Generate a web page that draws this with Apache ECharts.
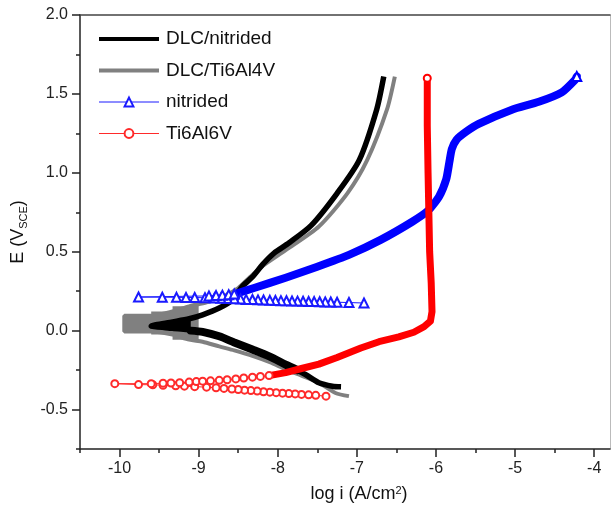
<!DOCTYPE html>
<html lang="en">
<head>
<meta charset="utf-8">
<title>polarization curves</title>
<script src="https://cdn.jsdelivr.net/npm/echarts@6/dist/echarts.min.js"></script>
<style>
    html, body { margin: 0; padding: 0; background: #fff; }
    #main { width: 614px; height: 515px; }
</style>
</head>
<body>
<div id="main"></div>
<script>
// axis ticks
var xMajorTicks = [-10, -9, -8, -7, -6, -5, -4]
var xMinorTicks = [-10.5, -9.5, -8.5, -7.5, -6.5, -5.5, -4.5]
var yMajorTicks = [-0.5, 0, 0.5, 1, 1.5, 2]
var yMinorTicks = [-0.75, -0.25, 0.25, 0.75, 1.25, 1.75]

// [log i, E], in scan order
var dlcNitrided = [
    [-7.20, -0.356], [-7.31, -0.352], [-7.48, -0.33], [-7.65, -0.278], [-7.90, -0.215],
    [-8.10, -0.165], [-8.32, -0.12], [-8.55, -0.075], [-8.74, -0.036], [-8.95, -0.006],
    [-9.33, 0.015], [-9.60, 0.03], [-9.33, 0.055], [-9.12, 0.075], [-8.95, 0.10],
    [-8.74, 0.143], [-8.57, 0.196], [-8.45, 0.28], [-8.32, 0.34], [-8.19, 0.42],
    [-8.05, 0.49], [-7.86, 0.555], [-7.58, 0.665], [-7.25, 0.87], [-6.97, 1.08],
    [-6.75, 1.40], [-6.66, 1.61]
]
// noisy, thicker part of the cathodic branch
var dlcNitridedNoise = [
    [-9.10, 0.0], [-8.95, -0.008], [-8.74, -0.036], [-8.55, -0.075], [-8.32, -0.12],
    [-8.10, -0.165], [-7.90, -0.215], [-7.75, -0.25]
]
var dlcNitridedWedge = [
    [-9.60, 0.046], [-9.33, 0.066], [-9.10, 0.088], [-9.10, -0.006], [-9.33, 0.010], [-9.60, 0.018]
]

var dlcTi = [
    [-7.10, -0.415], [-7.27, -0.395], [-7.48, -0.33], [-7.70, -0.285], [-7.90, -0.245],
    [-8.10, -0.20], [-8.32, -0.16], [-8.55, -0.125], [-8.74, -0.10], [-8.95, -0.07],
    [-9.12, -0.057], [-9.33, -0.025], [-9.60, -0.006], [-9.94, -0.006], [-9.94, 0.095],
    [-9.60, 0.095], [-9.33, 0.122], [-9.12, 0.154], [-8.90, 0.18], [-8.70, 0.215],
    [-8.50, 0.27], [-8.35, 0.34], [-8.19, 0.41], [-7.90, 0.51], [-7.48, 0.66],
    [-7.12, 0.87], [-6.87, 1.08], [-6.62, 1.40], [-6.52, 1.61]
]
var dlcTiWedge = [
    [-9.94, 0.095], [-9.60, 0.095], [-9.60, 0.122], [-9.33, 0.122], [-9.33, 0.154],
    [-9.12, 0.154], [-9.0, 0.165], [-9.0, -0.065], [-9.12, -0.057], [-9.33, -0.057],
    [-9.33, -0.025], [-9.60, -0.025], [-9.60, -0.006], [-9.94, -0.006]
]

var nitrided = [
    [-6.91, 0.175], [-7.10, 0.178], [-7.25, 0.18], [-7.33, 0.181], [-7.40, 0.182],
    [-7.47, 0.183], [-7.54, 0.184], [-7.61, 0.185], [-7.68, 0.186], [-7.75, 0.187],
    [-7.82, 0.188], [-7.89, 0.189], [-7.96, 0.19], [-8.03, 0.191], [-8.10, 0.192],
    [-8.18, 0.194], [-8.25, 0.195], [-8.32, 0.197], [-8.40, 0.198], [-8.47, 0.20],
    [-8.55, 0.202], [-8.64, 0.204], [-8.72, 0.205], [-8.80, 0.207], [-8.92, 0.208],
    [-9.05, 0.21], [-9.16, 0.21], [-9.28, 0.211], [-9.46, 0.212], [-9.76, 0.213],
    [-8.87, 0.22], [-8.78, 0.222], [-8.70, 0.225], [-8.62, 0.228], [-8.55, 0.232]
]
var nitridedBand = [
    [-8.52, 0.235], [-8.30, 0.27], [-7.90, 0.335], [-7.50, 0.405], [-7.10, 0.48],
    [-6.70, 0.575], [-6.30, 0.69], [-6.10, 0.76], [-5.96, 0.85], [-5.87, 0.96],
    [-5.83, 1.07], [-5.80, 1.15], [-5.74, 1.21], [-5.62, 1.26], [-5.46, 1.31],
    [-5.04, 1.40], [-4.70, 1.45], [-4.41, 1.51], [-4.24, 1.59], [-4.22, 1.61]
]

var ti6al6v = [
    [-7.39, -0.415], [-7.52, -0.41], [-7.61, -0.407], [-7.70, -0.404], [-7.78, -0.401],
    [-7.86, -0.399], [-7.94, -0.396], [-8.02, -0.393], [-8.10, -0.39], [-8.18, -0.387],
    [-8.26, -0.383], [-8.34, -0.38], [-8.42, -0.377], [-8.50, -0.373], [-8.58, -0.37],
    [-8.68, -0.366], [-8.78, -0.362], [-8.90, -0.358], [-9.05, -0.355], [-9.18, -0.352],
    [-9.29, -0.35], [-9.45, -0.346], [-9.58, -0.343], [-9.76, -0.342], [-10.06, -0.336],
    [-9.60, -0.336], [-9.45, -0.333], [-9.35, -0.332], [-9.24, -0.33], [-9.12, -0.326],
    [-9.03, -0.323], [-8.95, -0.32], [-8.85, -0.318], [-8.74, -0.315], [-8.64, -0.311],
    [-8.53, -0.306], [-8.43, -0.30], [-8.32, -0.295], [-8.22, -0.29], [-8.11, -0.285]
]
var ti6al6vBand = [
    [-8.11, -0.285], [-7.90, -0.266], [-7.70, -0.24], [-7.48, -0.212], [-7.25, -0.17],
    [-6.95, -0.11], [-6.72, -0.07], [-6.47, -0.04], [-6.28, -0.01], [-6.15, 0.025],
    [-6.07, 0.06], [-6.05, 0.12], [-6.06, 0.30], [-6.08, 0.50], [-6.09, 0.75],
    [-6.10, 1.00], [-6.11, 1.30], [-6.11, 1.60]
]

var font = '"Liberation Sans", Arial, sans-serif'

var wedge = function(points, color, z) {
    return {
        type: 'custom',
        coordinateSystem: 'cartesian2d',
        silent: true,
        z: z,
        data: [points[0]],
        renderItem: function(params, api) {
            return {
                type: 'polygon',
                shape: { points: points.map(function(p) { return api.coord(p) }) },
                style: { fill: color }
            }
        }
    }
}

// band series: only the last point gets a marker
var lastOnly = function(size, data) {
    return function(v, p) {
        return p.dataIndex === data.length - 1 ? size : 0
    }
}

var element = document.querySelector('#main')
var myChart = echarts.init(element)

var option = {
    animation: false,
    backgroundColor: '#fff',
    textStyle: { fontFamily: font },
    grid: { left: 80, right: 4, top: 15, bottom: 66 },
    legend: {
        orient: 'vertical',
        left: 97,
        top: 29,
        padding: 0,
        itemWidth: 60,
        itemHeight: 11,
        itemGap: 11.5,
        textStyle: { fontSize: 19, color: '#111', fontFamily: font, lineHeight: 20, padding: [0, 0, 0, 2] },
        data: [
            { name: 'DLC/nitrided', lineStyle: { width: 4 }, itemStyle: { opacity: 0 } },
            { name: 'DLC/Ti6Al4V', lineStyle: { width: 4 }, itemStyle: { opacity: 0 } },
            { name: 'nitrided', lineStyle: { width: 1 } },
            { name: 'Ti6Al6V', lineStyle: { width: 1 } }
        ]
    },
    xAxis: [
        {
            type: 'value', min: -10.5, max: -3.8, position: 'bottom',
            name: 'log i (A/cm{sup|2})',
            nameLocation: 'middle',
            nameGap: 36,
            nameTextStyle: {
                fontSize: 18, color: '#111', padding: [0, 0, 0, 28],
                rich: { sup: { fontSize: 11, verticalAlign: 'top', lineHeight: 14 } }
            },
            axisLine: { onZero: false, lineStyle: { color: '#222', width: 1.5 } },
            axisTick: { length: 8, customValues: xMajorTicks, lineStyle: { color: '#222', width: 1.5 } },
            axisLabel: { customValues: xMajorTicks, fontSize: 16, color: '#222', margin: 12 },
            splitLine: { show: false }
        },
        {
            type: 'value', min: -10.5, max: -3.8, position: 'bottom',
            axisLine: { show: false, onZero: false },
            axisTick: { length: 4, customValues: xMinorTicks, lineStyle: { color: '#222', width: 1.5 } },
            axisLabel: { show: false },
            splitLine: { show: false }
        },
        {
            type: 'value', min: -10.5, max: -3.8, position: 'top',
            axisLine: { onZero: false, lineStyle: { color: '#444', width: 1.5 } },
            axisTick: { show: false },
            axisLabel: { show: false },
            splitLine: { show: false }
        }
    ],
    yAxis: [
        {
            type: 'value', min: -0.75, max: 2.0, position: 'left',
            name: '{a|E (V}{s|SCE}{a|)}',
            nameLocation: 'middle',
            nameGap: 50,
            nameTextStyle: {
                color: '#111',
                rich: {
                    a: { fontSize: 18, lineHeight: 22 },
                    s: { fontSize: 11, lineHeight: 12, verticalAlign: 'bottom' }
                }
            },
            axisLine: { onZero: false, lineStyle: { color: '#222', width: 1.5 } },
            axisTick: { length: 8, customValues: yMajorTicks, lineStyle: { color: '#222', width: 1.5 } },
            axisLabel: {
                customValues: yMajorTicks, fontSize: 16, color: '#222', margin: 12,
                formatter: function(v) { return v.toFixed(1) }
            },
            splitLine: { show: false }
        },
        {
            type: 'value', min: -0.75, max: 2.0, position: 'left',
            axisLine: { show: false, onZero: false },
            axisTick: { length: 4, customValues: yMinorTicks, lineStyle: { color: '#222', width: 1.5 } },
            axisLabel: { show: false },
            splitLine: { show: false }
        },
        {
            type: 'value', min: -0.75, max: 2.0, position: 'right',
            axisLine: { onZero: false, lineStyle: { color: '#bbb', width: 1 } },
            axisTick: { show: false },
            axisLabel: { show: false },
            splitLine: { show: false }
        }
    ],
    series: [
        wedge(dlcTiWedge, '#808080', 2),
        {
            name: 'DLC/Ti6Al4V', type: 'line', z: 2,
            data: dlcTi, showSymbol: false, symbol: 'none', smooth: 0.25,
            lineStyle: { color: '#808080', width: 4 },
            itemStyle: { color: '#808080' }
        },
        wedge(dlcNitridedWedge, '#000', 3),
        {
            name: 'DLC/nitrided', type: 'line', z: 3,
            data: dlcNitrided, showSymbol: false, symbol: 'none', smooth: 0.25,
            lineStyle: { color: '#000', width: 5.5 },
            itemStyle: { color: '#000' }
        },
        {
            name: 'DLC/nitrided noise', type: 'line', z: 3,
            data: dlcNitridedNoise, showSymbol: false, symbol: 'none', smooth: 0.25,
            lineStyle: { color: '#000', width: 8, cap: 'round' },
            itemStyle: { color: '#000' }
        },
        {
            name: 'nitrided', type: 'line', z: 4,
            data: nitrided, symbol: 'emptyTriangle', symbolSize: 9, showAllSymbol: true,
            lineStyle: { color: '#1a1aff', width: 1 },
            itemStyle: { color: '#1a1aff', borderWidth: 1 }
        },
        {
            name: 'nitrided band', type: 'line', z: 4,
            data: nitridedBand, symbol: 'emptyTriangle', showAllSymbol: true, smooth: 0.2,
            symbolSize: lastOnly(9, nitridedBand),
            lineStyle: { color: '#0000ff', width: 8, cap: 'round', join: 'round' },
            itemStyle: { color: '#0000ff', borderWidth: 1 }
        },
        {
            name: 'Ti6Al6V', type: 'line', z: 5,
            data: ti6al6v, symbol: 'emptyCircle', symbolSize: 7, showAllSymbol: true,
            lineStyle: { color: '#ff2a2a', width: 1 },
            itemStyle: { color: '#ff2a2a', borderWidth: 1 }
        },
        {
            name: 'Ti6Al6V band', type: 'line', z: 5,
            data: ti6al6vBand, symbol: 'emptyCircle', showAllSymbol: true,
            symbolSize: lastOnly(7, ti6al6vBand),
            lineStyle: { color: '#ff0000', width: 7, cap: 'round', join: 'round' },
            itemStyle: { color: '#ff0000', borderWidth: 1 }
        }
    ]
}

myChart.setOption(option)
</script>
</body>
</html>
